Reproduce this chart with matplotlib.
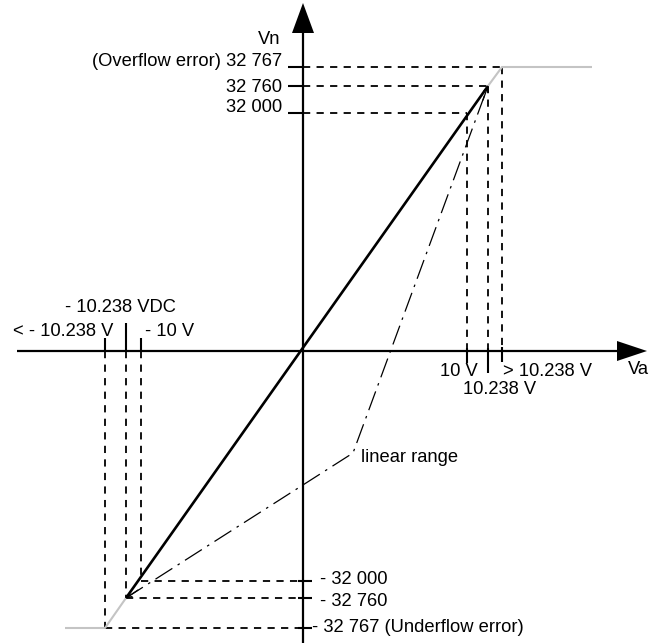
"""
Analog input conversion diagram: digital value Vn versus input voltage Va.

Schematic drawing, axes are not to scale. Positions are in diagram units
(origin at the axis crossing).

Output:
    out.png
"""

import matplotlib.pyplot as plt

# positive side: 10 V, 10.238 V, > 10.238 V
X_POS = [164, 185, 199]
Y_POS = [238, 265, 284]  # 32 000, 32 760, 32 767
X_POS_LABELS = ["10 V", "10.238 V", "> 10.238 V"]
Y_POS_LABELS = ["32 000", "32 760", "(Overflow error) 32 767"]

# negative side: - 10 V, - 10.238 V, < - 10.238 V
X_NEG = [-162, -177, -198]
Y_NEG = [-230, -247, -277]  # - 32 000, - 32 760, - 32 767
X_NEG_LABELS = ["- 10 V", "- 10.238 VDC", "< - 10.238 V"]
Y_NEG_LABELS = ["- 32 000", "- 32 760", "- 32 767 (Underflow error)"]

# knee of the dash-dot "linear range" curve
LINEAR_KNEE = (50, -102)

# saturation plateau ends
SAT_RIGHT_END = 289
SAT_LEFT_END = -238

XLIM = (-303, 347)
YLIM = (-292, 351)

FONT = "Liberation Sans"
FS = 13.2


def draw_diagram() -> None:
    fig = plt.figure(figsize=(6.5, 6.43), dpi=100)
    ax = fig.add_axes([0, 0, 1, 1])
    ax.set_xlim(*XLIM)
    ax.set_ylim(*YLIM)
    ax.axis("off")

    # axes with arrow heads
    ax.plot([-286, 316], [0, 0], color="black", lw=1.6, solid_capstyle="butt")
    ax.plot([0, 0], [YLIM[0], 320], color="black", lw=1.6, solid_capstyle="butt")
    ax.fill([314, 344, 314], [-10, 0, 10], color="black", lw=0)
    ax.fill([-11, 0, 11], [318, 348, 318], color="black", lw=0)
    ax.text(325, -19, "Va", fontsize=FS, family=FONT, ha="left", va="center")
    ax.text(-23, 311, "Vn", fontsize=FS, family=FONT, ha="right", va="center")

    dashed = dict(color="black", lw=1.3, linestyle=(0, (4, 3.5)))
    for x, y in zip(X_POS, Y_POS):
        ax.plot([0, x], [y, y], **dashed)
        ax.plot([x, x], [y, 0], **dashed)
    for x, y in zip(X_NEG, Y_NEG):
        ax.plot([x, 0], [y, y], **dashed)
        ax.plot([x, x], [0, y], **dashed)

    # saturation parts (grey)
    grey = dict(color="#c4c4c4", lw=1.5, solid_capstyle="butt")
    ax.plot([X_POS[1], X_POS[2], SAT_RIGHT_END], [Y_POS[1], Y_POS[2], Y_POS[2]], **grey)
    ax.plot([X_NEG[1], X_NEG[2], SAT_LEFT_END], [Y_NEG[1], Y_NEG[2], Y_NEG[2]], **grey)

    # ideal transfer line
    ax.plot([X_NEG[1], X_POS[1]], [Y_NEG[1], Y_POS[1]], color="black", lw=1.9,
            solid_capstyle="butt")

    # dash-dot linear range marker
    ax.plot([X_NEG[1], LINEAR_KNEE[0], X_POS[1]],
            [Y_NEG[1], LINEAR_KNEE[1], Y_POS[1]],
            color="black", lw=0.9, linestyle=(0, (16, 5, 2, 5)))
    arrow = dict(arrowstyle="->", color="black", lw=0.9, shrinkA=0, shrinkB=0,
                 mutation_scale=8)
    ax.annotate("", xy=(X_POS[1], Y_POS[1]), xytext=(X_POS[1] - 5, Y_POS[1] - 14),
                arrowprops=arrow)
    ax.annotate("", xy=(X_NEG[1], Y_NEG[1]), xytext=(X_NEG[1] + 12, Y_NEG[1] + 8),
                arrowprops=arrow)
    ax.text(LINEAR_KNEE[0] + 8, LINEAR_KNEE[1] - 5, "linear range", fontsize=FS,
            family=FONT, ha="left", va="center")

    # y ticks and labels
    tick = dict(color="black", lw=1.5, solid_capstyle="butt")
    for y in Y_POS:
        ax.plot([-15, 0], [y, y], **tick)
    ax.text(-21, 289, Y_POS_LABELS[2], fontsize=FS, family=FONT, ha="right", va="center")
    ax.text(-21, 264, Y_POS_LABELS[1], fontsize=FS, family=FONT, ha="right", va="center")
    ax.text(-21, 244, Y_POS_LABELS[0], fontsize=FS, family=FONT, ha="right", va="center")

    for y in Y_NEG:
        ax.plot([-5, 9], [y, y], **tick)
    ax.text(17, Y_NEG[0] + 1, Y_NEG_LABELS[0], fontsize=FS, family=FONT, ha="left", va="center")
    ax.text(17, Y_NEG[1] - 3, Y_NEG_LABELS[1], fontsize=FS, family=FONT, ha="left", va="center")
    ax.text(9, Y_NEG[2], Y_NEG_LABELS[2], fontsize=FS, family=FONT, ha="left", va="center")

    # x ticks and labels, positive side
    ax.plot([X_POS[0], X_POS[0]], [3, -12], **tick)
    ax.plot([X_POS[1], X_POS[1]], [3, -22], **tick)
    ax.plot([X_POS[2], X_POS[2]], [4, -11], **tick)
    ax.text(X_POS[0] + 11, -20, X_POS_LABELS[0], fontsize=FS, family=FONT, ha="right", va="center")
    ax.text(X_POS[1] + 12, -39, X_POS_LABELS[1], fontsize=FS, family=FONT, ha="center", va="center")
    ax.text(X_POS[2] + 1, -20, X_POS_LABELS[2], fontsize=FS, family=FONT, ha="left", va="center")

    # x ticks and labels, negative side
    ax.plot([X_NEG[0], X_NEG[0]], [0, 13], **tick)
    ax.plot([X_NEG[1], X_NEG[1]], [0, 28], **tick)
    ax.plot([X_NEG[2], X_NEG[2]], [0, 13], **tick)
    ax.text(X_NEG[0] + 4, 20, X_NEG_LABELS[0], fontsize=FS, family=FONT, ha="left", va="center")
    ax.text(X_NEG[1] - 6, 43, X_NEG_LABELS[1], fontsize=FS, family=FONT, ha="center", va="center")
    ax.text(X_NEG[2] + 8, 20, X_NEG_LABELS[2], fontsize=FS, family=FONT, ha="right", va="center")

    fig.savefig("out.png", dpi=100, facecolor="white")
    plt.close(fig)


if __name__ == "__main__":
    draw_diagram()
